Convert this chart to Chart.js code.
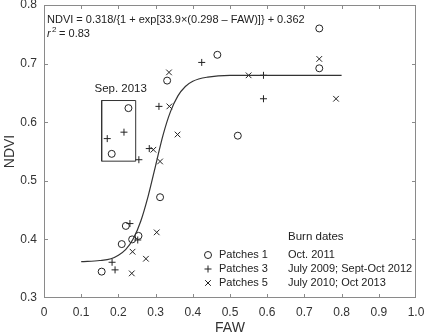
<!DOCTYPE html>
<html>
<head>
<meta charset="utf-8">
<script src="https://cdn.jsdelivr.net/npm/chart.js@4.4.0/dist/chart.umd.min.js"></script>
<style>
  body { margin: 0; background: #fff; }
  #wrap { width: 426px; height: 335px; position: relative; }
</style>
</head>
<body>
<div id="wrap"><canvas id="myChart"></canvas></div>
<script>
// values
const patches1 = [
    {x: 0.331, y: 0.671}, {x: 0.227, y: 0.624}, {x: 0.182, y: 0.546}, {x: 0.521, y: 0.577},
    {x: 0.312, y: 0.472}, {x: 0.740, y: 0.760}, {x: 0.740, y: 0.692}, {x: 0.466, y: 0.715},
    {x: 0.220, y: 0.423}, {x: 0.254, y: 0.406}, {x: 0.237, y: 0.400}, {x: 0.209, y: 0.392},
    {x: 0.155, y: 0.345}
];
const patches3 = [
    {x: 0.424, y: 0.702}, {x: 0.170, y: 0.572}, {x: 0.215, y: 0.583}, {x: 0.255, y: 0.536},
    {x: 0.309, y: 0.627}, {x: 0.283, y: 0.555}, {x: 0.590, y: 0.680}, {x: 0.590, y: 0.640},
    {x: 0.231, y: 0.427}, {x: 0.252, y: 0.399}, {x: 0.183, y: 0.361}, {x: 0.191, y: 0.348}
];
const patches5 = [
    {x: 0.336, y: 0.685}, {x: 0.337, y: 0.627}, {x: 0.359, y: 0.579}, {x: 0.294, y: 0.553},
    {x: 0.312, y: 0.533}, {x: 0.740, y: 0.708}, {x: 0.785, y: 0.640}, {x: 0.550, y: 0.680},
    {x: 0.303, y: 0.412}, {x: 0.238, y: 0.379}, {x: 0.274, y: 0.367}, {x: 0.236, y: 0.342}
];
// fitted curve
const fitFAW  = [0.10, 0.15, 0.18, 0.20, 0.22, 0.24, 0.26, 0.28, 0.30, 0.32, 0.34, 0.36, 0.38, 0.40, 0.44, 0.50, 0.60, 0.80];
const fitNDVI = [0.362, 0.364, 0.367, 0.373, 0.383, 0.401, 0.431, 0.474, 0.526, 0.578, 0.618, 0.645, 0.661, 0.670, 0.677, 0.680, 0.680, 0.680];
// "Sep. 2013" box
const boxFAW  = [0.155, 0.2465];
const boxNDVI = [0.5335, 0.637];

const xTicks = [0, 0.1, 0.2, 0.3, 0.4, 0.5, 0.6, 0.7, 0.8, 0.9, 1.0];
const yTicks = [0.3, 0.4, 0.5, 0.6, 0.7, 0.8];

const legendRows = [
    ['circle', 'Patches 1', 'Oct. 2011'],
    ['cross', 'Patches 3', 'July 2009; Sept-Oct 2012'],
    ['crossRot', 'Patches 5', 'July 2010; Oct 2013']
];

const FONT = '"Liberation Sans", Arial, Helvetica, sans-serif';
const INK = '#222';

const fitLine = fitFAW.map((v, i) => ({x: v, y: fitNDVI[i]}));
const boxLine = [
    {x: boxFAW[0], y: boxNDVI[0]}, {x: boxFAW[1], y: boxNDVI[0]},
    {x: boxFAW[1], y: boxNDVI[1]}, {x: boxFAW[0], y: boxNDVI[1]},
    {x: boxFAW[0], y: boxNDVI[0]}
];

// frame, inward ticks, equation, box label and legend
const extras = {
    id: 'extras',
    afterDraw(chart) {
        const ctx = chart.ctx;
        const a = chart.chartArea;
        const sx = chart.scales.x, sy = chart.scales.y;
        ctx.save();
        ctx.strokeStyle = '#8a8a8a';
        ctx.lineWidth = 1;
        ctx.strokeRect(Math.round(a.left) + 0.5, Math.round(a.top) + 0.5,
            Math.round(a.right - a.left) - 1, Math.round(a.bottom - a.top) - 1);
        ctx.beginPath();
        xTicks.slice(1, -1).forEach(v => {
            const px = Math.round(sx.getPixelForValue(v)) + 0.5;
            ctx.moveTo(px, a.bottom); ctx.lineTo(px, a.bottom - 4);
            ctx.moveTo(px, a.top); ctx.lineTo(px, a.top + 4);
        });
        yTicks.slice(1, -1).forEach(v => {
            const py = Math.round(sy.getPixelForValue(v)) + 0.5;
            ctx.moveTo(a.left, py); ctx.lineTo(a.left + 4, py);
            ctx.moveTo(a.right, py); ctx.lineTo(a.right - 4, py);
        });
        ctx.stroke();

        ctx.fillStyle = INK;
        ctx.textBaseline = 'middle';
        ctx.textAlign = 'left';
        ctx.font = '11px ' + FONT;
        ctx.fillText('NDVI = 0.318/{1 + exp[33.9\u00d7(0.298 \u2013 FAW)]} + 0.362', a.left + 3, 20);
        ctx.font = 'italic 11px ' + FONT;
        ctx.fillText('r', a.left + 3, 34);
        ctx.font = '8px ' + FONT;
        ctx.fillText('2', a.left + 8, 30);
        ctx.font = '11px ' + FONT;
        ctx.fillText(' = 0.83', a.left + 12, 34);

        ctx.textAlign = 'center';
        ctx.font = '11.5px ' + FONT;
        const bx = (sx.getPixelForValue(boxFAW[0]) + sx.getPixelForValue(boxFAW[1])) / 2;
        ctx.fillText('Sep. 2013', bx + 2, sy.getPixelForValue(boxNDVI[1]) - 11.5);

        ctx.textAlign = 'left';
        ctx.font = '11.5px ' + FONT;
        ctx.fillText('Burn dates', 288, 237);
        ctx.font = '11px ' + FONT;
        legendRows.forEach((r, i) => {
            const y = 255 + i * 14;
            ctx.strokeStyle = INK;
            ctx.lineWidth = 1;
            ctx.fillStyle = 'rgba(0,0,0,0)';
            Chart.helpers.drawPoint(ctx, {pointStyle: r[0], radius: r[0] == 'crossRot' ? 4 : 3.5, borderWidth: 1}, 208, y);
            ctx.fillStyle = INK;
            ctx.fillText(r[1], 219, y);
            ctx.fillText(r[2], 288, y);
        });
        ctx.restore();
    }
};

const ctx = document.getElementById('myChart');

new Chart(ctx, {
    type: 'scatter',
    data: {
        datasets: [
            {
                label: 'fit', data: fitLine, showLine: true, pointRadius: 0,
                borderColor: '#333', borderWidth: 1.2, cubicInterpolationMode: 'monotone'
            },
            {
                label: 'box', data: boxLine, showLine: true, pointRadius: 0,
                borderColor: '#333', borderWidth: 1, tension: 0
            },
            {
                label: 'Patches 1', data: patches1, pointStyle: 'circle', pointRadius: 3.5,
                borderColor: INK, backgroundColor: 'rgba(0,0,0,0)', borderWidth: 1
            },
            {
                label: 'Patches 3', data: patches3, pointStyle: 'cross', pointRadius: 3.5,
                borderColor: INK, borderWidth: 1
            },
            {
                label: 'Patches 5', data: patches5, pointStyle: 'crossRot', pointRadius: 4,
                borderColor: INK, borderWidth: 1
            }
        ]
    },
    options: {
        responsive: true,
        maintainAspectRatio: false,
        animation: false,
        events: [],
        layout: {padding: {top: 5, right: 10, left: 0, bottom: 0}},
        plugins: {legend: {display: false}, tooltip: {enabled: false}},
        scales: {
            x: {
                type: 'linear', min: 0, max: 1,
                afterBuildTicks: s => { s.ticks = xTicks.map(v => ({value: v})); },
                afterFit: s => { s.height = 37; s.paddingLeft = 0; s.paddingRight = 0; },
                grid: {display: false, drawTicks: false},
                border: {display: false},
                ticks: {
                    padding: 7, color: '#333', font: {family: FONT, size: 12},
                    callback: v => v === 0 ? '0' : v.toFixed(1)
                },
                title: {
                    display: true, text: 'FAW', color: '#333',
                    font: {family: FONT, size: 14, lineHeight: 1}, padding: 0
                }
            },
            y: {
                type: 'linear', min: 0.3, max: 0.8,
                afterBuildTicks: s => { s.ticks = yTicks.map(v => ({value: v})); },
                afterFit: s => { s.width = 44; s.paddingTop = 0; s.paddingBottom = 0; },
                grid: {display: false, drawTicks: false},
                border: {display: false},
                ticks: {
                    padding: 7, color: '#333', font: {family: FONT, size: 12},
                    callback: v => v.toFixed(1)
                },
                title: {
                    display: true, text: 'NDVI', color: '#333',
                    font: {family: FONT, size: 14, lineHeight: 1}, padding: {top: 3, bottom: 0}
                }
            }
        }
    },
    plugins: [extras]
});
</script>
</body>
</html>
